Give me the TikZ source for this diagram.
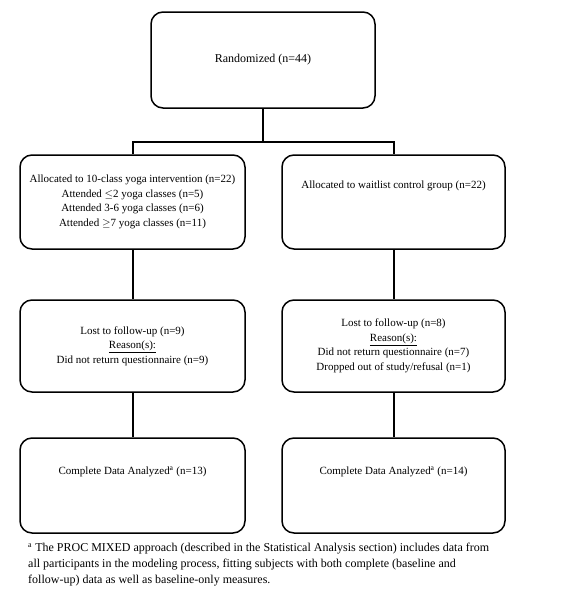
\documentclass[tikz,border=0pt]{standalone}
\usepackage{fontspec}
\setmainfont{Liberation Serif}
\usepackage{tikz}

\tikzset{
  flowbox/.style={draw,line width=1.5pt,rounded corners=12pt,align=center,
    font=\fontsize{11}{14.5}\selectfont,inner sep=0pt},
  link/.style={line width=2pt}
}

\begin{document}
\begin{tikzpicture}[x=1pt,y=-1pt]
\useasboundingbox (0,0) rectangle (574,600);

\node[flowbox,minimum width=224,minimum height=96,font=\fontsize{12}{14.5}\selectfont] (rand) at (263,60) {Randomized (n=44)};

\node[flowbox,minimum width=225,minimum height=94] (yoga) at (132.5,202)
  {Allocated to 10-class yoga intervention (n=22)\\
   Attended $\leq$2 yoga classes (n=5)\\
   Attended 3-6 yoga classes (n=6)\\
   Attended $\geq$7 yoga classes (n=11)};
\node[flowbox,minimum width=223,minimum height=94] (wait) at (393.5,202)
  {Allocated to waitlist control group (n=22)\\[20pt]\mbox{}};

\node[flowbox,minimum width=225,minimum height=92] (lostY) at (132.5,346)
  {Lost to follow-up (n=9)\\
   \underline{Reason(s):}\\
   Did not return questionnaire (n=9)};
\node[flowbox,minimum width=223,minimum height=92] (lostW) at (393.5,346)
  {Lost to follow-up (n=8)\\
   \underline{Reason(s):}\\
   Did not return questionnaire (n=7)\\
   Dropped out of study/refusal (n=1)};

\node[flowbox,minimum width=225,minimum height=95] (compY) at (132.5,485.5)
  {Complete Data Analyzed\textsuperscript{a} (n=13)\\[15pt]\mbox{}};
\node[flowbox,minimum width=223,minimum height=95] (compW) at (393.5,485.5)
  {Complete Data Analyzed\textsuperscript{a} (n=14)\\[15pt]\mbox{}};

\coordinate (split) at (263,142);
\draw[link] (rand) -- (split);
\draw[link] (yoga.north) |- (split) -| (wait.north);
\draw[link] (yoga) -- (lostY);
\draw[link] (wait) -- (lostW);
\draw[link] (lostY) -- (compY);
\draw[link] (lostW) -- (compW);

\node[anchor=north west,align=left,inner sep=0pt,font=\fontsize{12}{16}\selectfont] (note) at (28,543)
  {\textsuperscript{a} The PROC MIXED approach (described in the Statistical Analysis section) includes data from\\
   all participants in the modeling process, fitting subjects with both complete (baseline and\\
   follow-up) data as well as baseline-only measures.};

\end{tikzpicture}
\end{document}
